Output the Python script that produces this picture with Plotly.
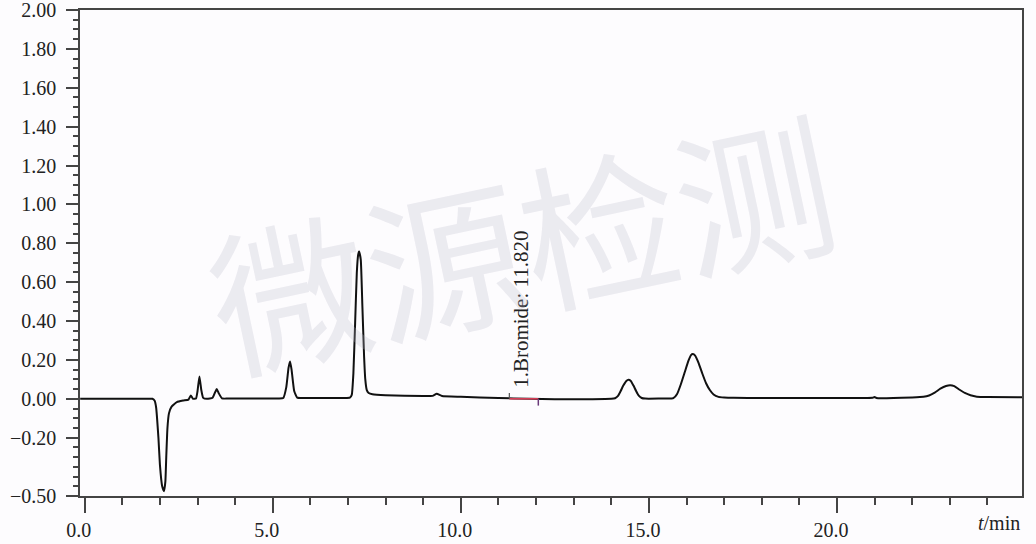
import plotly.graph_objects as go

# Chromatogram trace (time in min, signal)
time_min = [-0.12, 1.00, 1.70, 1.80, 1.86, 1.90, 1.96, 2.00, 2.06, 2.11, 2.145, 2.17, 2.20, 2.24, 2.31,
            2.45, 2.62, 2.76, 2.82, 2.88, 2.96, 3.00, 3.05, 3.10, 3.15, 3.25, 3.40, 3.47, 3.51,
            3.56, 3.65, 3.80, 5.15, 5.28, 5.36, 5.42, 5.46, 5.50, 5.57, 5.65, 5.80, 6.90, 7.05,
            7.10, 7.144, 7.19, 7.234, 7.27, 7.295, 7.34, 7.383, 7.428, 7.46, 7.50, 7.55, 7.65,
            8.0, 9.0, 9.25, 9.36, 9.50, 10.0, 11.0, 11.82, 12.5, 13.5, 14.00,
            14.10, 14.18, 14.25, 14.32, 14.40, 14.457, 14.52, 14.59, 14.66, 14.73, 14.81, 14.90,
            15.60, 15.65, 15.75, 15.85, 15.95, 16.05, 16.12, 16.17, 16.23, 16.32, 16.42, 16.52,
            16.62, 16.72, 16.85, 17.0, 17.25, 18.0, 20.0, 20.95, 21.0, 21.05, 22.0,
            22.30, 22.45, 22.60, 22.75, 22.90, 23.01, 23.12, 23.25, 23.40, 23.55, 23.72, 24.0,
            24.92]
signal = [0.000, 0.000, 0.000, 0.000, -0.010, -0.046, -0.200, -0.340, -0.450, -0.475, -0.425,
          -0.290, -0.150, -0.075, -0.040, -0.017, -0.009, -0.004, 0.017, 0.000, 0.002, 0.040,
          0.115, 0.045, 0.005, 0.000, 0.005, 0.035, 0.050, 0.030, 0.002, 0.001, 0.002, 0.004,
          0.060, 0.160, 0.192, 0.150, 0.040, 0.006, 0.004, 0.004, 0.006, 0.020, 0.132, 0.390,
          0.647, 0.740, 0.758, 0.715, 0.475, 0.218, 0.100, 0.045, 0.030, 0.023,
          0.018, 0.014, 0.015, 0.026, 0.014, 0.010, 0.004, 0.000, -0.002, -0.002, 0.000,
          0.003, 0.015, 0.040, 0.068, 0.092, 0.098, 0.092, 0.068, 0.040, 0.016, 0.004, 0.001,
          0.002, 0.003, 0.025, 0.075, 0.135, 0.195, 0.225, 0.230, 0.222, 0.185, 0.130, 0.080,
          0.045, 0.022, 0.010, 0.007, 0.005, 0.004, 0.004, 0.005, 0.009, 0.004, 0.007,
          0.010, 0.017, 0.032, 0.052, 0.066, 0.070, 0.065, 0.048, 0.030, 0.018, 0.011, 0.009,
          0.008]

# Axis ticks
x_tickvals = [0, 5, 10, 15, 20]
x_ticktext = ["0.0", "5.0", "10.0", "15.0", "20.0"]
y_tickvals = [2.0, 1.8, 1.6, 1.4, 1.2, 1.0, 0.8, 0.6, 0.4, 0.2, 0.0, -0.2, -0.5]
y_ticktext = ["2.00", "1.80", "1.60", "1.40", "1.20", "1.00", "0.80", "0.60", "0.40",
              "0.20", "0.00", "\u22120.20", "\u22120.50"]

# Peak integration marker for bromide
peak_label = "1.Bromide: 11.820"
bromide_start = 11.29
bromide_end = 12.06
bromide_label_x = 11.58

fig = go.Figure()
fig.add_trace(go.Scatter(x=time_min, y=signal, mode="lines",
                         line=dict(color="#111111", width=2, shape="spline", smoothing=0.4),
                         showlegend=False, hoverinfo="skip"))
fig.add_trace(go.Scatter(x=[bromide_start, bromide_end], y=[0.0, 0.0], mode="lines",
                         line=dict(color="#e0405a", width=1.5), showlegend=False))
fig.add_trace(go.Scatter(x=[bromide_start, bromide_start], y=[0.0, 0.03], mode="lines",
                         line=dict(color="#555555", width=1.2), showlegend=False))
fig.add_trace(go.Scatter(x=[bromide_end, bromide_end], y=[0.0, -0.035], mode="lines",
                         line=dict(color="#6a3a7a", width=1.5), showlegend=False))

font_serif = "Liberation Serif, Times New Roman, serif"

fig.add_annotation(x=bromide_label_x, y=0.045, xref="x", yref="y", text=peak_label,
                   textangle=-90, showarrow=False, xanchor="center", yanchor="bottom",
                   font=dict(family=font_serif, size=21, color="#222222"))

# watermark
fig.add_annotation(x=0.468, y=0.53, xref="paper", yref="paper", text="微源检测",
                   textangle=-12, showarrow=False,
                   font=dict(family="Noto Sans CJK SC", size=158, color="rgba(185,185,200,0.26)"))

fig.add_annotation(x=1, y=0, xref="paper", yref="paper", text="<i>t</i>/min",
                   showarrow=False, xanchor="right", yanchor="middle", yshift=-27,
                   font=dict(family=font_serif, size=20, color="#222222"))

fig.update_layout(
    width=1036, height=544,
    margin=dict(l=80, r=14, t=10, b=48),
    paper_bgcolor="#fdfcfe", plot_bgcolor="#fdfcfe",
    font=dict(family=font_serif, size=20, color="#222222"),
    xaxis=dict(range=[-0.125, 24.92], tickmode="array", tickvals=x_tickvals, ticktext=x_ticktext,
               ticks="outside", ticklen=15, tickwidth=1.5, tickcolor="#444444",
               showline=True, linecolor="#444444", linewidth=1.5, mirror=True,
               showgrid=False, zeroline=False, ticklabelshift=-6, automargin=False,
               ticklabeloverflow="allow", ticklabelstandoff=0,
               minor=dict(dtick=1, tick0=0, ticklen=7, tickwidth=1.5, tickcolor="#444444",
                          ticks="outside", showgrid=False)),
    yaxis=dict(range=[-0.5, 2.0], tickmode="array", tickvals=y_tickvals, ticktext=y_ticktext,
               ticks="outside", ticklen=12, tickwidth=1.5, tickcolor="#444444",
               showline=True, linecolor="#444444", linewidth=1.5, mirror=True,
               showgrid=False, zeroline=False, ticklabelstandoff=6, automargin=False,
               ticklabeloverflow="allow",
               minor=dict(dtick=0.05, tick0=0, ticklen=5, tickwidth=1.5, tickcolor="#444444",
                          ticks="outside", showgrid=False)),
)

fig.write_html("out.html", config={"displayModeBar": False},
               post_script="document.body.style.margin='0';document.body.style.background='#fdfcfe';")
